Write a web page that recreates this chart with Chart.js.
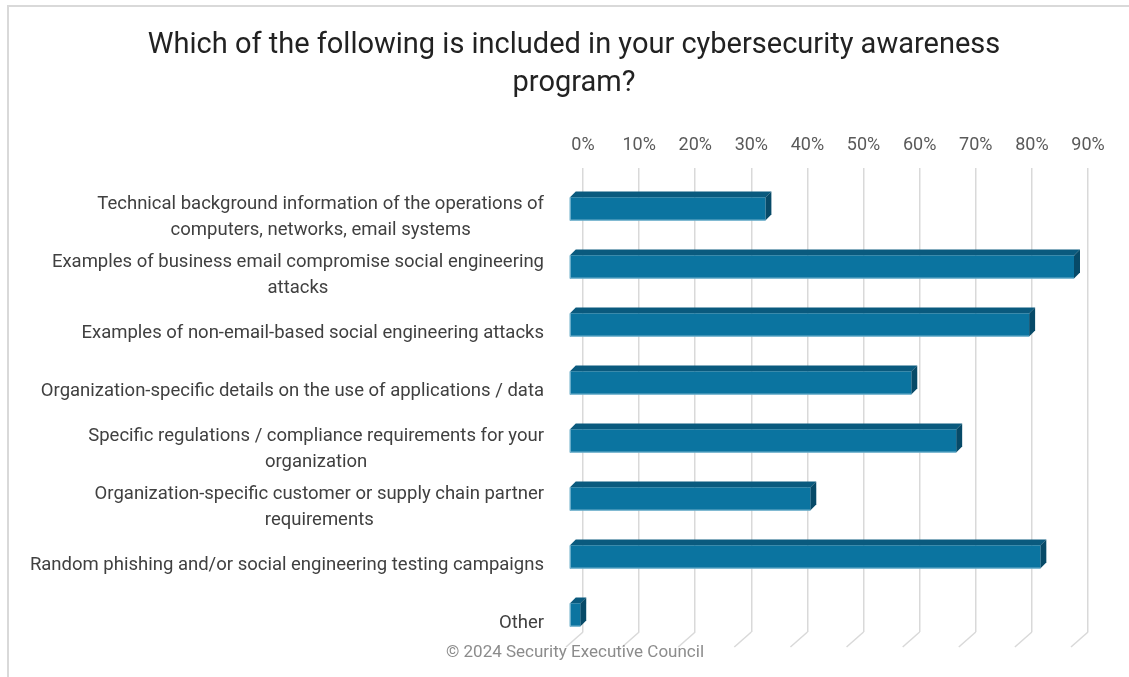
<!DOCTYPE html>
<html>
<head>
<meta charset="utf-8">
<script src="https://cdn.jsdelivr.net/npm/chart.js@4"></script>
<style>
  html, body { margin: 0; padding: 0; background: #fff; }
  #wrap { width: 1129px; height: 677px; }
</style>
</head>
<body>
<div id="wrap"><canvas id="chart" width="1129" height="677"></canvas></div>
<script>
const titleLines = ['Which of the following is included in your cybersecurity awareness', 'program?'];
const categories = [
  ['Technical background information of the operations of', 'computers, networks, email systems'],
  ['Examples of business email compromise social engineering', 'attacks'],
  ['Examples of non-email-based social engineering attacks'],
  ['Organization-specific details on the use of applications / data'],
  ['Specific regulations / compliance requirements for your', 'organization'],
  ['Organization-specific customer or supply chain partner', 'requirements'],
  ['Random phishing and/or social engineering testing campaigns'],
  ['Other']
];
const percentIncluded = [35, 90, 82, 61, 69, 43, 84, 2];
const axisMax = 90;
const axisStep = 10;
const footerText = '\u00A9 2024 Security Executive Council';

const FONT = 'Roboto, "Open Sans", sans-serif';
const GRID = '#d9d9d9';
// 3d offsets: front face sits in front of the back wall, bar has some depth
const FRONT = { dx: -14, dy: 12 };
const DEPTH = { dx: 6, dy: -6 };
const FLOOR = { dx: -17, dy: 15 };

const threeD = {
  id: 'threeD',
  beforeDraw(chart) {
    const ctx = chart.ctx;
    ctx.save();
    ctx.fillStyle = '#fff';
    ctx.fillRect(0, 0, chart.width, chart.height);
    ctx.strokeStyle = GRID;
    ctx.lineWidth = 2;
    ctx.strokeRect(8, 6, chart.width + 20, chart.height + 20);
    ctx.restore();
  },
  beforeDatasetsDraw(chart) {
    // floor lines running forward from the bottom of each gridline
    const ctx = chart.ctx, xs = chart.scales.x, b = chart.chartArea.bottom;
    ctx.save();
    ctx.strokeStyle = GRID;
    ctx.lineWidth = 1.5;
    xs.ticks.forEach(t => {
      const x = xs.getPixelForValue(t.value);
      ctx.beginPath();
      ctx.moveTo(x, b);
      ctx.lineTo(x + FLOOR.dx, b + FLOOR.dy);
      ctx.stroke();
    });
    ctx.restore();
  },
  afterDatasetsDraw(chart) {
    const ctx = chart.ctx;
    ctx.save();
    chart.getDatasetMeta(0).data.forEach(bar => {
      const p = bar.getProps(['x', 'y', 'base', 'height'], true);
      const l = p.base + FRONT.dx, r = p.x + FRONT.dx;
      const t = p.y - p.height / 2 + FRONT.dy, bt = p.y + p.height / 2 + FRONT.dy;
      // top face
      ctx.fillStyle = '#0a5a7e';
      ctx.beginPath();
      ctx.moveTo(l, t); ctx.lineTo(l + DEPTH.dx, t + DEPTH.dy);
      ctx.lineTo(r + DEPTH.dx, t + DEPTH.dy); ctx.lineTo(r, t);
      ctx.closePath(); ctx.fill();
      // side face
      ctx.fillStyle = '#074a68';
      ctx.beginPath();
      ctx.moveTo(r, t); ctx.lineTo(r + DEPTH.dx, t + DEPTH.dy);
      ctx.lineTo(r + DEPTH.dx, bt + DEPTH.dy); ctx.lineTo(r, bt);
      ctx.closePath(); ctx.fill();
      // front face
      ctx.fillStyle = '#0b74a0';
      ctx.fillRect(l, t, r - l, bt - t);
      ctx.strokeStyle = 'rgba(150,200,222,0.9)';
      ctx.lineWidth = 1;
      ctx.beginPath();
      ctx.moveTo(l + 0.5, t); ctx.lineTo(l + 0.5, bt - 0.5); ctx.lineTo(r, bt - 0.5);
      ctx.stroke();
    });
    ctx.restore();
  },
  afterDraw(chart) {
    const ctx = chart.ctx, ys = chart.scales.y, area = chart.chartArea;
    ctx.save();
    // title
    ctx.fillStyle = '#222';
    ctx.font = '29px ' + FONT;
    ctx.textAlign = 'center';
    ctx.textBaseline = 'middle';
    titleLines.forEach((line, i) => ctx.fillText(line, 574, 46 + i * 38));
    // category labels: block right-aligned, lines centred inside the block
    ctx.fillStyle = '#404040';
    ctx.font = '18.5px ' + FONT;
    const right = area.left - 39;
    categories.forEach((lines, i) => {
      const cy = ys.getPixelForTick(i) + 20;
      const widest = Math.max(...lines.map(s => ctx.measureText(s).width));
      const cx = right - widest / 2;
      lines.forEach((s, j) => ctx.fillText(s, cx, cy + (j - (lines.length - 1) / 2) * 26));
    });
    // footer
    ctx.fillStyle = '#8c8c8c';
    ctx.font = '17px ' + FONT;
    ctx.fillText(footerText, 575, 653);
    ctx.restore();
  }
};

new Chart(document.getElementById('chart'), {
  type: 'bar',
  data: {
    labels: categories,
    datasets: [{
      data: percentIncluded,
      backgroundColor: 'rgba(0,0,0,0)',
      borderWidth: 0,
      barPercentage: 0.8,
      categoryPercentage: 0.5
    }]
  },
  options: {
    indexAxis: 'y',
    responsive: false,
    animation: false,
    devicePixelRatio: 1,
    layout: { padding: { left: 0, right: 41, top: 0, bottom: 45 } },
    plugins: { legend: { display: false }, tooltip: { enabled: false }, title: { display: false } },
    scales: {
      x: {
        position: 'top',
        min: 0,
        max: axisMax,
        ticks: {
          stepSize: axisStep,
          callback: v => v + '%',
          color: '#595959',
          font: { family: FONT, size: 18 },
          padding: 12
        },
        grid: { color: GRID, lineWidth: 1.5, drawTicks: false },
        border: { display: false },
        afterFit: s => { s.height = 168; }
      },
      y: {
        ticks: { display: false },
        grid: { display: false },
        border: { display: false },
        afterFit: s => { s.width = 583; }
      }
    }
  },
  plugins: [threeD]
});
</script>
</body>
</html>
